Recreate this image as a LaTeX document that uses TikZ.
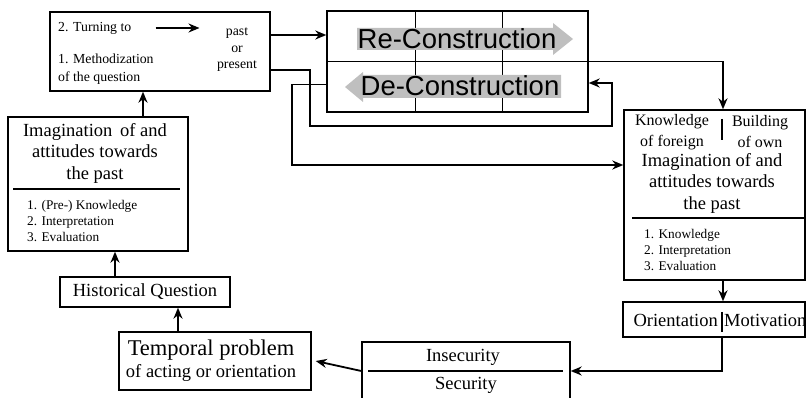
\documentclass[tikz,border=0pt]{standalone}
\usepackage{fontspec}
\setmainfont{Liberation Serif}
\newfontfamily\arialfont{Liberation Sans}
\usetikzlibrary{arrows.meta}

\begin{document}
\begin{tikzpicture}[x=1pt, y=-1pt, >={Stealth[length=11pt,width=9pt]},
  box/.style={draw, line width=1.4pt, inner sep=0pt},
  flow/.style={->, line width=1.8pt},
  big/.style={inner sep=0pt, align=center, font=\fontsize{18.5}{21.5}\selectfont},
  small/.style={inner sep=0pt, align=left, font=\fontsize{13.3}{16}\selectfont},
  note/.style={inner sep=0pt, align=center, font=\fontsize{13.8}{16.5}\selectfont},
  construct/.style={inner sep=0pt, font=\arialfont\fontsize{27.5}{27.5}\selectfont}]
\useasboundingbox (0,0) rectangle (807,398);

% boxes
\node[box, minimum width=220pt, minimum height=79pt] (method) at (160,51.5) {};
\node[box, minimum width=261pt, minimum height=101pt] (construct) at (457.5,61.5) {};
\node[box, minimum width=181pt, minimum height=170pt] (imagR) at (714.5,195) {};
\node[box, minimum width=182pt, minimum height=35pt] (orient) at (714,319.5) {};
\node[box, minimum width=208pt, minimum height=62pt] (insec) at (466,373) {};
\node[box, minimum width=192pt, minimum height=58pt] (temporal) at (215,361) {};
\node[box, minimum width=170pt, minimum height=30pt] (hq) at (145,292) {};
\node[box, minimum width=180pt, minimum height=134pt] (imagL) at (98,184) {};

% re- and de-construction
\draw[line width=1pt] (construct.west) -- (construct.east);
\draw[line width=1pt] (415,11) -- (415,112);
\draw[line width=1pt] (502,11) -- (502,112);
\fill[gray!50] (357,28) -- (553,28) -- (553,23) -- (573,39) -- (553,55) -- (553,50) -- (357,50) -- cycle;
\fill[gray!50] (561,75) -- (363,75) -- (363,72) -- (345,87) -- (363,102) -- (363,98) -- (561,98) -- cycle;
\node[construct] (re) at (457,39) {Re-Construction};
\node[construct] (de) at (460,86) {De-Construction};

% texts
\node[note, anchor=west] (turn) at (58,28) {2. Turning to};
\node[note, align=left, anchor=west] (methodiz) at (58,69) {1. Methodization\\[1.5pt]of the question};
\node[note] (past) at (237,50) {past\\or\\present};
\draw[flow] (turn.east) ++(24,0) -- ++(44,0);

\node[big] (imagLtitle) at (95,153) {Imagination \,of and\\attitudes towards\\the past};
\draw[line width=1.3pt] (13,189) -- (180,189);
\node[small, anchor=west] (imagLlist) at (27,221) {1. (Pre-) Knowledge\\2. Interpretation\\3. Evaluation};

\node[big] (hqtxt) at (145,292) {Historical Question};
\node[inner sep=0pt, font=\fontsize{22.5}{22.5}\selectfont] (tp1) at (211,350) {Temporal problem};
\node[big] (tp2) at (211,373) {of acting or orientation};

\node[big] (insectxt) at (463,357) {Insecurity};
\draw[line width=1.3pt] (368,371) -- (563,371);
\node[big] (sectxt) at (466,385) {Security};

\node[big, anchor=east] (orienttxt) at (718,320) {Orientation};
\draw[line width=1.2pt] (722,312) -- (722,332);
\node[big, anchor=west] (motivtxt) at (724,320) {Motivation};

\node[inner sep=0pt, align=center, font=\fontsize{16}{21}\selectfont] (foreign) at (672,132) {Knowledge\\of foreign};
\node[inner sep=0pt, align=center, font=\fontsize{16}{21}\selectfont] (own) at (760,132) {Building\\of own};
\draw[line width=1.2pt] (722,119) -- (722,140);
\node[big] (imagRtitle) at (712,183) {Imagination of and\\attitudes towards\\the past};
\draw[line width=1.3pt] (632,218) -- (804,218);
\node[small, anchor=west] (imagRlist) at (644,250) {1. Knowledge\\2. Interpretation\\3. Evaluation};

% connectors
\coordinate (loopA) at (310,126);
\coordinate (loopB) at (612,126);
\coordinate (loopC) at (292,165);
\draw[flow] ([yshift=16.5]method.east) -- ([yshift=16.5]method.east -| construct.west);
\draw[flow] ([yshift=-18.5]method.east) -| (loopA) -- (loopB) |- ([yshift=-21.5]construct.east);
\draw[flow] ([yshift=-23]construct.west) -| (loopC) -- (loopC -| imagR.west);
\draw[flow] (construct.east) -| ([xshift=8.5]imagR.north);
\draw[flow] ([xshift=8.5]imagR.south) -- ([xshift=9]orient.north);
\draw[flow] ([xshift=8]orient.south) |- ([yshift=2]insec.east);
\draw[flow] ([yshift=2]insec.west) -- ([xshift=4]temporal.east);
\draw[flow] ([xshift=-37]temporal.north) -- ([xshift=-37]temporal.north |- hq.south);
\draw[flow] ([xshift=-30]hq.north) -- ([xshift=-30]hq.north |- imagL.south);
\draw[flow] ([xshift=45]imagL.north) -- ([xshift=45]imagL.north |- method.south);
\end{tikzpicture}
\end{document}
